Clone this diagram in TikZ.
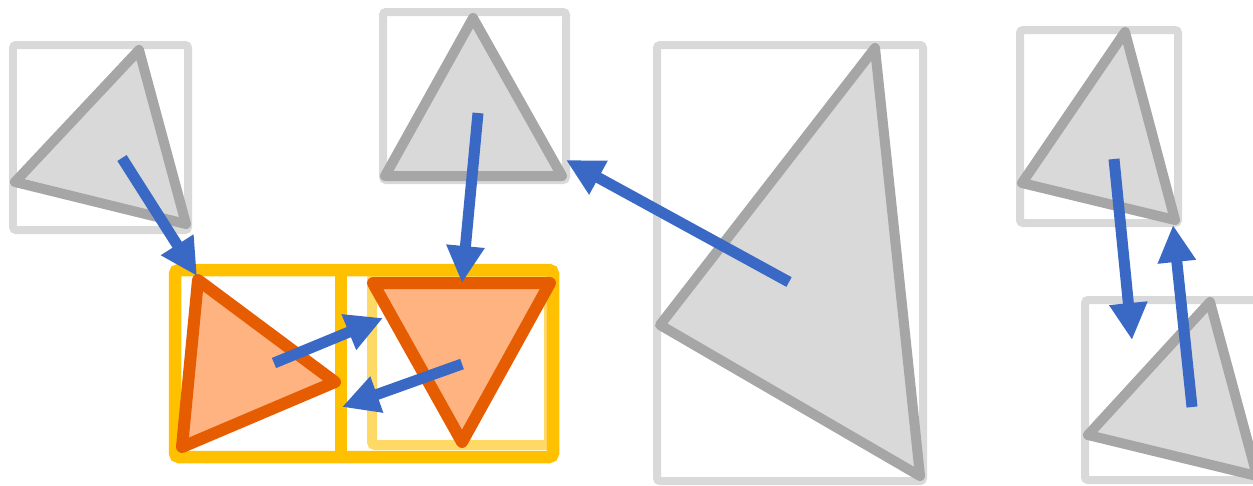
\documentclass[tikz,border=0pt]{standalone}
\usetikzlibrary{arrows.meta}
\definecolor{boxgray}{HTML}{D9D9D9}
\definecolor{trigray}{HTML}{A6A6A6}
\definecolor{tifill}{HTML}{D9D9D9}
\definecolor{gold}{HTML}{FFC000}
\definecolor{paleGold}{HTML}{FFD966}
\definecolor{rust}{HTML}{E65C00}
\definecolor{peach}{HTML}{FFB380}
\definecolor{flow}{HTML}{3A69C5}
\begin{document}
\begin{tikzpicture}[x=0.02cm,y=-0.02cm,
  bbox/.style={draw=boxgray,line width=0.16cm,rounded corners=0.06cm},
  gtri/.style={draw=trigray,fill=tifill,line width=0.2cm,line join=round},
  otri/.style={draw=rust,fill=peach,line width=0.24cm,line join=round},
  grp/.style={draw=gold,line width=0.25cm,rounded corners=0.08cm},
  flowarrow/.style={draw=flow,line width=0.22cm,-{Triangle[width=0.72cm,length=0.74cm]}}]
\useasboundingbox (0,0) rectangle (1253,485);

% bounding boxes of the grey shapes
\draw[bbox] (13,45) rectangle (188,230);
\draw[bbox] (383,12) rectangle (566,180);
\draw[bbox] (657,45) rectangle (923,481);
\draw[bbox] (1020,30) rectangle (1178,223);
\draw[bbox] (1085,300) rectangle (1262,480);

% grey triangles
\draw[gtri] (139,50) -- (15,182) -- (186,224) -- cycle;
\draw[gtri] (473,18) -- (385,176) -- (562,176) -- cycle;
\draw[gtri] (875,48) -- (660,325) -- (920,476) -- cycle;
\draw[gtri] (1125,32) -- (1022,183) -- (1175,220) -- cycle;
\draw[gtri] (1210,302) -- (1088,435) -- (1257,476) -- cycle;

% grouped cells
\draw[draw=paleGold,line width=0.2cm,rounded corners=0.06cm] (372,276) rectangle (549,445);
\draw[grp] (175,270) rectangle (553,457);
\draw[draw=gold,line width=0.24cm] (341,270) -- (341,457);

% orange triangles
\draw[otri] (198,280) -- (182,447) -- (335,382) -- cycle;
\draw[otri] (373,283) -- (550,283) -- (462,442) -- cycle;

% arrow end points
\coordinate (a1s) at (122,158);  \coordinate (a1e) at (197,276);
\coordinate (a2s) at (478,113);  \coordinate (a2e) at (462,283);
\coordinate (a3s) at (789,282);  \coordinate (a3e) at (566,160);
\coordinate (a4s) at (274,363);  \coordinate (a4e) at (383,318);
\coordinate (a5s) at (462,364);  \coordinate (a5e) at (342,407);
\coordinate (a6s) at (1114,159); \coordinate (a6e) at (1132,340);
\coordinate (a7s) at (1192,407); \coordinate (a7e) at (1173,225);

% arrows
\draw[flowarrow] (a1s) -- (a1e);
\draw[flowarrow] (a2s) -- (a2e);
\draw[flowarrow] (a3s) -- (a3e);
\draw[flowarrow] (a4s) -- (a4e);
\draw[flowarrow] (a5s) -- (a5e);
\draw[flowarrow] (a6s) -- (a6e);
\draw[flowarrow] (a7s) -- (a7e);
\end{tikzpicture}
\end{document}
